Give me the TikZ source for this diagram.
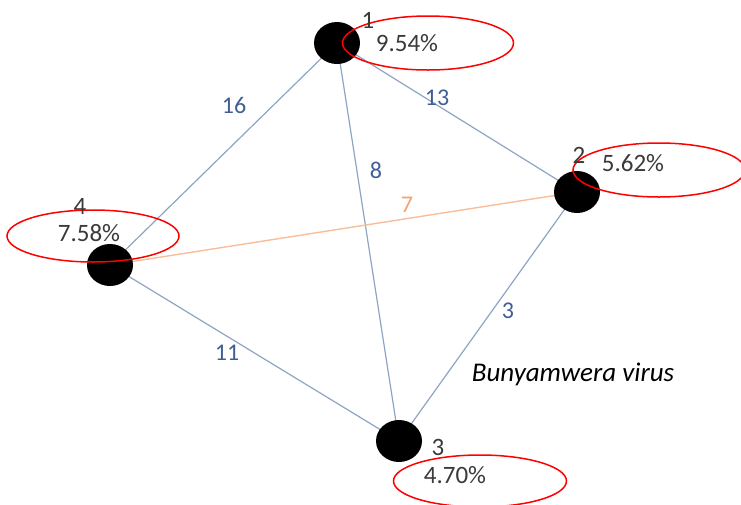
\documentclass[tikz,border=0pt]{standalone}
\usepackage{fontspec}
\setmainfont{Carlito}
\usetikzlibrary{shapes.geometric}
\definecolor{edgeblue}{HTML}{8DA4C4}
\definecolor{labblue}{HTML}{3F5F94}
\definecolor{edgeorange}{HTML}{F8BE98}
\definecolor{labornage}{HTML}{F0A46E}
\definecolor{txtgray}{HTML}{3A3A3A}
\tikzset{
  vert/.style={ellipse, fill=black, minimum width=46pt, minimum height=42pt, inner sep=0pt},
  ring/.style={ellipse, draw=red, line width=1.5pt, inner sep=0pt},
  edge/.style={draw=edgeblue, line width=1.2pt},
  oedge/.style={draw=edgeorange, line width=1.4pt},
  wlab/.style={text=labblue, font=\fontsize{24}{28}\selectfont},
  olab/.style={text=labornage, font=\fontsize{24}{28}\selectfont},
  vtxt/.style={text=txtgray, font=\fontsize{25}{30}\selectfont, inner sep=0pt}
}
\begin{document}
\begin{tikzpicture}[x=1pt,y=-1pt]
\useasboundingbox (0,0) rectangle (741,504);
% edges
\coordinate (c1) at (337,43);
\coordinate (c2) at (577,192);
\coordinate (c3) at (399,441);
\coordinate (c4) at (110,265);
\draw[edge] (c1) -- (c4);
\draw[edge] (c1) -- (c2);
\draw[edge] (c1) -- (c3);
\draw[oedge] (c4) -- (c2);
\draw[edge] (c4) -- (c3);
\draw[edge] (c2) -- (c3);
% vertices
\node[vert] (v1) at (c1) {};
\node[vert] (v2) at (c2) {};
\node[vert] (v3) at (c3) {};
\node[vert] (v4) at (c4) {};
% red rings
\node[ring, minimum width=171pt, minimum height=54pt] (r1) at (428,43) {};
\node[ring, minimum width=172pt, minimum height=54pt] (r2) at (659,170) {};
\node[ring, minimum width=172pt, minimum height=52pt] (r4) at (93,236) {};
\node[ring, minimum width=173pt, minimum height=52pt] (r3) at (480,481) {};
% vertex texts
\node[vtxt] (n1) at (368,20) {1};
\node[vtxt] (p1) at (407,43) {9.54\%};
\node[vtxt] (n2) at (579,155) {2};
\node[vtxt] (p2) at (633,163) {5.62\%};
\node[vtxt] (n4) at (80,206) {4};
\node[vtxt] (p4) at (89,233) {7.58\%};
\node[vtxt] (n3) at (438,447) {3};
\node[vtxt] (p3) at (455,475) {4.70\%};
% edge labels
\node[wlab] (w14) at (234,105) {16};
\node[wlab] (w12) at (437,98) {13};
\node[wlab] (w13) at (376,170) {8};
\node[olab] (w42) at (407,205) {7};
\node[wlab] (w23) at (508,311) {3};
\node[wlab] (w43) at (227,353) {11};
\node[text=black, font=\fontsize{27}{31}\selectfont\itshape] (virus) at (573,374) {Bunyamwera virus};
\end{tikzpicture}
\end{document}
